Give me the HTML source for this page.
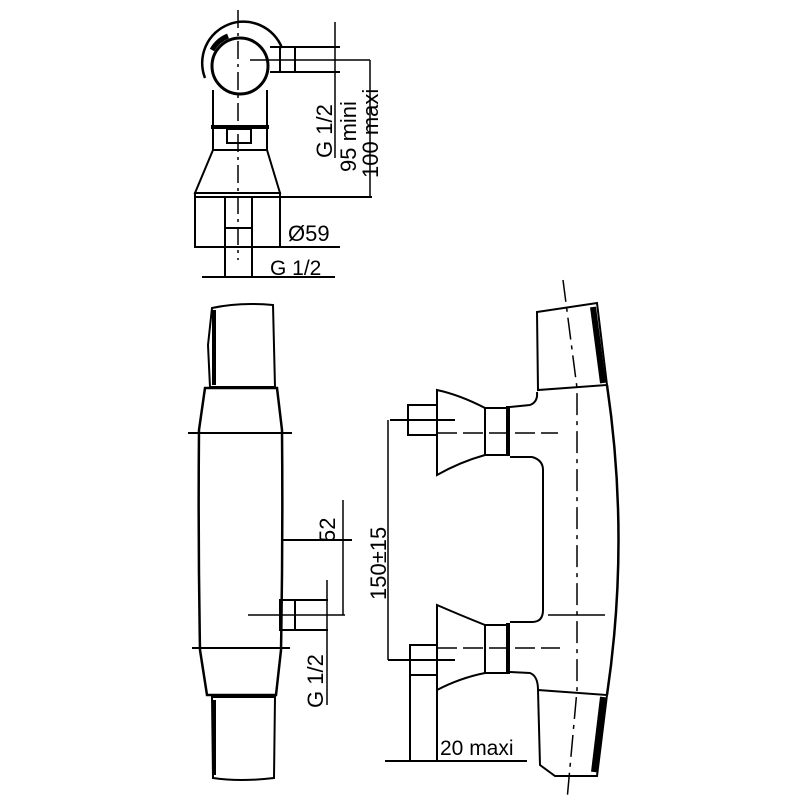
<!DOCTYPE html>
<html><head><style>html,body{margin:0;padding:0;background:#fff}svg{display:block}</style></head>
<body>
<svg width="800" height="800" viewBox="0 0 800 800" xmlns="http://www.w3.org/2000/svg" font-family="Liberation Sans, sans-serif" fill="none" stroke="#000" stroke-width="2">
<!-- TOP VIEW -->
<path d="M205,78 A40,40 0 1 1 282,48" stroke-width="2.5"/>
<circle cx="240" cy="66" r="28" stroke-width="3"/>
<path d="M212,50 A32,32 0 0 1 228,36" stroke-width="5"/>
<line x1="238" y1="10" x2="238" y2="260" stroke-width="1.5" stroke-dasharray="18,5,3,5"/>
<rect x="280" y="47" width="15" height="25"/>
<line x1="270" y1="47" x2="340" y2="47"/><line x1="270" y1="72" x2="340" y2="72"/>
<line x1="250" y1="60" x2="370" y2="60" stroke-width="1.5"/>
<path d="M213,90 L213,150 M267,90 L267,150"/>
<line x1="211" y1="127" x2="269" y2="127" stroke-width="4"/>
<rect x="227" y="129" width="24" height="14"/>
<path d="M213,150 L267,150 L280,193 L195,193 Z"/>
<rect x="195" y="193" width="85" height="54"/>
<line x1="195" y1="197" x2="372" y2="197"/>
<line x1="195" y1="247" x2="340" y2="247"/>
<line x1="225" y1="197" x2="225" y2="277"/><line x1="252" y1="197" x2="252" y2="277"/>
<line x1="225" y1="228" x2="252" y2="228"/>
<line x1="202" y1="277" x2="335" y2="277"/>
<text x="288" y="241" font-size="22" fill="#000" stroke="none">Ø59</text>
<text x="270" y="275" font-size="21" fill="#000" stroke="none">G 1/2</text>
<line x1="335" y1="22" x2="335" y2="158" stroke-width="1.5"/>
<line x1="370" y1="60" x2="370" y2="197" stroke-width="1.5"/>
<text transform="translate(332,158) rotate(-90)" font-size="22" fill="#000" stroke="none">G 1/2</text>
<text transform="translate(356,172) rotate(-90)" font-size="22" fill="#000" stroke="none">95 mini</text>
<text transform="translate(378,178) rotate(-90)" font-size="22" fill="#000" stroke="none">100 maxi</text>

<!-- SIDE VIEW -->
<path d="M212,308 Q240,302 273,305 L275,387 L210,387 L208,345 Z"/>
<line x1="214" y1="310" x2="214" y2="385" stroke-width="4"/>
<path d="M205,388 L277,388 L282,430 Q283,540 281,650 L276,695 L207,695 L200,650 Q198,540 199,430 Z" stroke-width="2.5"/>
<path d="M212,697 L275,697 L274,778 Q240,782 213,778 Z"/>
<line x1="214" y1="700" x2="214" y2="775" stroke-width="4"/>
<line x1="188" y1="433" x2="292" y2="433"/>
<line x1="192" y1="648" x2="290" y2="648"/>
<rect x="280" y="600" width="15" height="30"/>
<line x1="280" y1="600" x2="328" y2="600"/><line x1="280" y1="630" x2="328" y2="630"/>
<line x1="248" y1="615" x2="345" y2="615" stroke-width="1.5"/>
<line x1="283" y1="540" x2="352" y2="540"/>
<line x1="343" y1="500" x2="343" y2="615" stroke-width="1.5"/>
<line x1="327" y1="580" x2="327" y2="705" stroke-width="1.5"/>
<text transform="translate(335,542) rotate(-90)" font-size="22" fill="#000" stroke="none">52</text>
<text transform="translate(323,708) rotate(-90)" font-size="22" fill="#000" stroke="none">G 1/2</text>
<line x1="388" y1="420" x2="388" y2="660" stroke-width="1.5"/>
<text transform="translate(386,600) rotate(-90)" font-size="22" fill="#000" stroke="none">150±15</text>

<!-- FRONT VIEW -->
<path d="M537,312 L597,303 L607,385 L538,390 Z"/>
<path d="M593,307 L603,383" stroke-width="6"/>
<path d="M538,690 L607,695 L597,776 L555,776 L540,765 Z"/>
<path d="M603,697 L594,772" stroke-width="6"/>
<path d="M607,385 Q630,540 607,695" stroke-width="2.5"/>
<path d="M537,392 Q538,402 530,405 L510,407"/>
<path d="M510,457 L532,457 Q543,460 543,470 L543,610 Q543,622 532,622 L510,622"/>
<path d="M510,672 L530,673 Q538,676 538,690"/>
<path d="M437,390 Q460,395 485,408 L485,455 Q460,462 437,475 Z"/>
<rect x="485" y="408" width="24" height="47"/>
<line x1="508" y1="406" x2="508" y2="456" stroke-width="4"/>
<rect x="408" y="405" width="29" height="30"/>
<line x1="390" y1="420" x2="455" y2="420"/>
<line x1="437" y1="433" x2="558" y2="433" stroke-width="1.5" stroke-dasharray="20,6"/>
<path d="M437,605 Q460,615 485,625 L485,673 Q460,678 437,690 Z"/>
<rect x="485" y="625" width="24" height="48"/>
<line x1="508" y1="623" x2="508" y2="674" stroke-width="4"/>
<rect x="410" y="645" width="27" height="30"/>
<line x1="388" y1="660" x2="455" y2="660"/>
<line x1="437" y1="648" x2="560" y2="648" stroke-width="1.5" stroke-dasharray="20,6"/>
<line x1="410" y1="675" x2="410" y2="762"/>
<line x1="437" y1="690" x2="437" y2="762"/>
<line x1="385" y1="761" x2="527" y2="761"/>
<text x="440" y="755" font-size="21" fill="#000" stroke="none">20 maxi</text>
<path d="M563,280 L577,388 L577,690 L567,800" stroke-width="1.5" stroke-dasharray="22,6,4,6"/>
<line x1="548" y1="615" x2="605" y2="615" stroke-width="1.5"/>
</svg>
</body></html>
